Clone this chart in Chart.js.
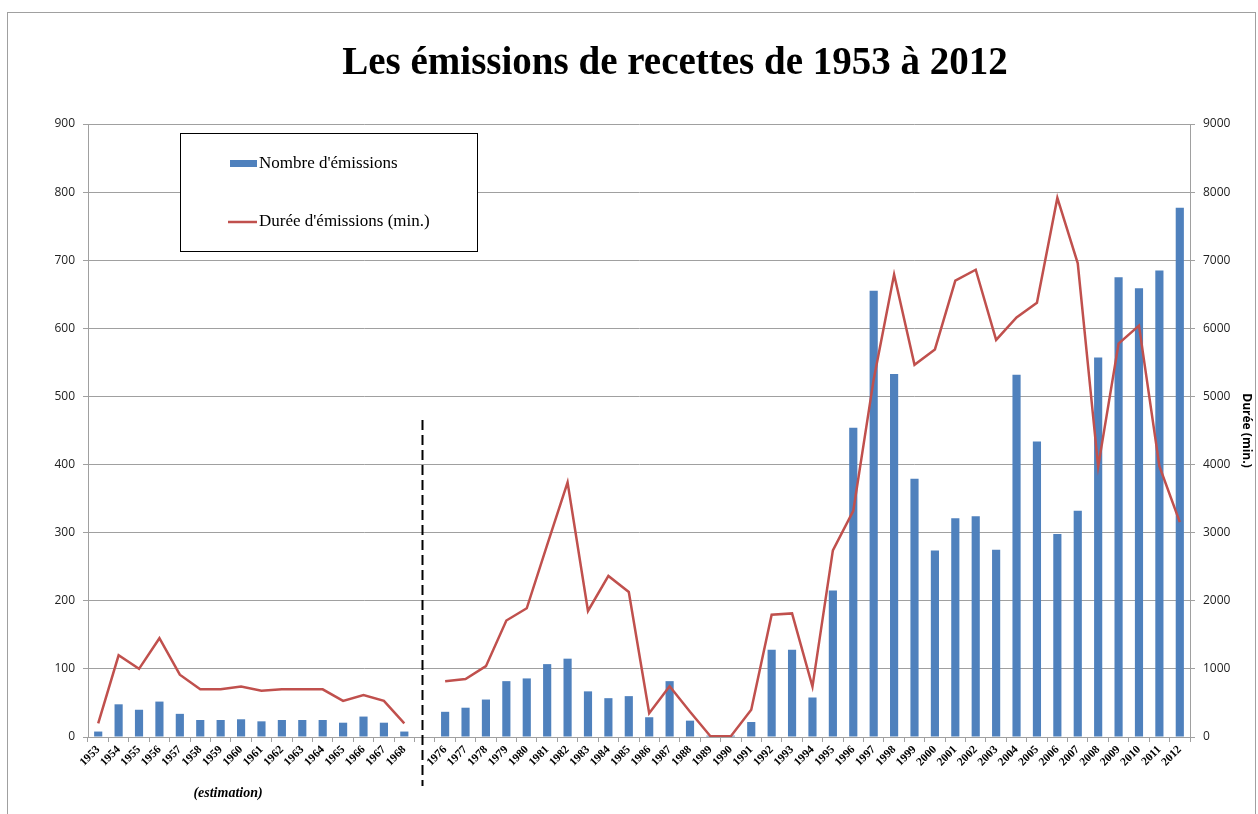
<!DOCTYPE html>
<html>
<head>
<meta charset="utf-8">
<script src="https://cdn.jsdelivr.net/npm/chart.js@4.4.1/dist/chart.umd.min.js"></script>
<style>
  html, body { margin: 0; padding: 0; background: #fff; }
  canvas { display: block; }
</style>
</head>
<body>
<canvas id="chart" width="1258" height="814"></canvas>
<script>
// categories (one empty slot for the 1969-1975 break)
const years = ['1953', '1954', '1955', '1956', '1957', '1958', '1959', '1960', '1961', '1962',
  '1963', '1964', '1965', '1966', '1967', '1968', '',
  '1976', '1977', '1978', '1979', '1980', '1981', '1982', '1983', '1984', '1985',
  '1986', '1987', '1988', '1989', '1990', '1991', '1992', '1993', '1994', '1995',
  '1996', '1997', '1998', '1999', '2000', '2001', '2002', '2003', '2004', '2005',
  '2006', '2007', '2008', '2009', '2010', '2011', '2012'];

// Nombre d'émissions
const nombre = [8, 48, 40, 52, 34, 25, 25, 26, 23, 25,
  25, 25, 21, 30, 21, 8, null,
  37, 43, 55, 82, 86, 107, 115, 67, 57, 60,
  29, 82, 24, 2, 2, 22, 128, 128, 58, 215,
  454, 655, 533, 379, 274, 321, 324, 275, 532, 434,
  298, 332, 557, 675, 659, 685, 777];

// Durée d'émissions (min.)
const duree = [200, 1200, 1000, 1450, 915, 700, 700, 740, 680, 700,
  700, 700, 530, 615, 530, 200, null,
  820, 850, 1040, 1710, 1890, 2820, 3740, 1850, 2365, 2130,
  350, 745, 370, 12, 12, 400, 1795, 1815, 740, 2740,
  3320, 5250, 6790, 5465, 5690, 6700, 6860, 5830, 6160, 6375,
  7915, 6955, 3970, 5775, 6040, 3975, 3155];

const leftTicks = [0, 100, 200, 300, 400, 500, 600, 700, 800, 900];
const rightTicks = [0, 1000, 2000, 3000, 4000, 5000, 6000, 7000, 8000, 9000];

const titleText = 'Les émissions de recettes de 1953 à 2012';
const gapIndex = years.indexOf('');

const frame = {
  id: 'frame',
  beforeDraw(chart) {
    const c = chart.ctx;
    c.save();
    c.fillStyle = '#fff';
    c.fillRect(0, 0, chart.width, chart.height);
    c.strokeStyle = '#a0a0a0';
    c.lineWidth = 1;
    c.strokeRect(7.5, 12.5, 1248, 900);

    c.fillStyle = '#000';
    c.font = 'bold 39px "Liberation Serif"';
    c.textAlign = 'center';
    c.textBaseline = 'middle';
    c.fillText(titleText, 675, 64);
    c.restore();
  }
};

const extras = {
  id: 'extras',
  afterDraw(chart) {
    const c = chart.ctx;
    const x = chart.scales.x;
    c.save();

    // break marker
    const gx = Math.round(x.getPixelForValue(gapIndex)) - 2.5;
    c.strokeStyle = '#000';
    c.lineWidth = 2;
    c.setLineDash([10, 5]);
    c.beginPath();
    c.moveTo(gx, 420);
    c.lineTo(gx, 786);
    c.stroke();
    c.setLineDash([]);

    c.fillStyle = '#000';
    c.font = 'italic bold 14px "Liberation Serif"';
    c.textAlign = 'center';
    c.textBaseline = 'middle';
    c.fillText('(estimation)', 228, 793);

    // legend box
    c.fillStyle = '#fff';
    c.fillRect(180, 133, 298, 119);
    c.strokeStyle = '#000';
    c.lineWidth = 1;
    c.strokeRect(180.5, 133.5, 297, 118);

    const ds = chart.data.datasets;
    c.font = '17px "Liberation Serif"';
    c.textAlign = 'left';
    c.fillStyle = ds[0].backgroundColor;
    c.fillRect(230, 160, 27, 7);
    c.fillStyle = '#000';
    c.fillText(ds[0].label, 259, 164);

    c.strokeStyle = ds[1].borderColor;
    c.lineWidth = 2.5;
    c.beginPath();
    c.moveTo(228, 222);
    c.lineTo(257, 222);
    c.stroke();
    c.fillStyle = '#000';
    c.fillText(ds[1].label, 259, 222);
    c.restore();
  }
};

new Chart(document.getElementById('chart'), {
  type: 'bar',
  data: {
    labels: years,
    datasets: [
      {
        type: 'bar',
        label: "Nombre d'émissions",
        data: nombre,
        backgroundColor: '#4f81bd',
        barPercentage: 0.4,
        categoryPercentage: 1,
        yAxisID: 'y',
        order: 1
      },
      {
        type: 'line',
        label: "Durée d'émissions (min.)",
        data: duree,
        borderColor: '#c0504d',
        backgroundColor: '#c0504d',
        borderWidth: 2.5,
        pointRadius: 0,
        tension: 0,
        spanGaps: false,
        yAxisID: 'y1',
        order: 0
      }
    ]
  },
  options: {
    responsive: false,
    animation: false,
    devicePixelRatio: 1,
    layout: { padding: { left: 0, right: 0, top: 124, bottom: 0 } },
    plugins: {
      legend: { display: false },
      tooltip: { enabled: false },
      title: { display: false }
    },
    scales: {
      x: {
        afterFit(s) { s.height = 77; },
        grid: { drawOnChartArea: false, color: '#a0a0a0', tickLength: 5, offset: true },
        border: { color: '#a0a0a0' },
        ticks: {
          autoSkip: false,
          minRotation: 45,
          maxRotation: 45,
          padding: 1,
          color: '#000',
          font: { family: 'Liberation Serif', size: 11.5, weight: 'bold' }
        }
      },
      y: {
        position: 'left',
        min: 0,
        max: 900,
        afterFit(s) { s.width = 88; },
        afterBuildTicks(s) { s.ticks = leftTicks.map(v => ({ value: v })); },
        grid: { color: '#a0a0a0', tickLength: 5 },
        border: { color: '#a0a0a0' },
        ticks: {
          padding: 8,
          color: '#222',
          font: { family: 'Open Sans', size: 12 },
          callback: v => String(v)
        }
      },
      y1: {
        position: 'right',
        min: 0,
        max: 9000,
        afterFit(s) { s.width = 68; },
        afterBuildTicks(s) { s.ticks = rightTicks.map(v => ({ value: v })); },
        grid: { drawOnChartArea: false, color: '#a0a0a0', tickLength: 5 },
        border: { color: '#a0a0a0' },
        ticks: {
          padding: 8,
          color: '#222',
          font: { family: 'Open Sans', size: 12 },
          callback: v => String(v)
        },
        title: {
          display: true,
          text: 'Durée (min.)',
          color: '#000',
          font: { family: 'Open Sans', size: 12, weight: 'bold' },
          padding: { top: 4, bottom: 8 }
        }
      }
    }
  },
  plugins: [frame, extras]
});
</script>
</body>
</html>
